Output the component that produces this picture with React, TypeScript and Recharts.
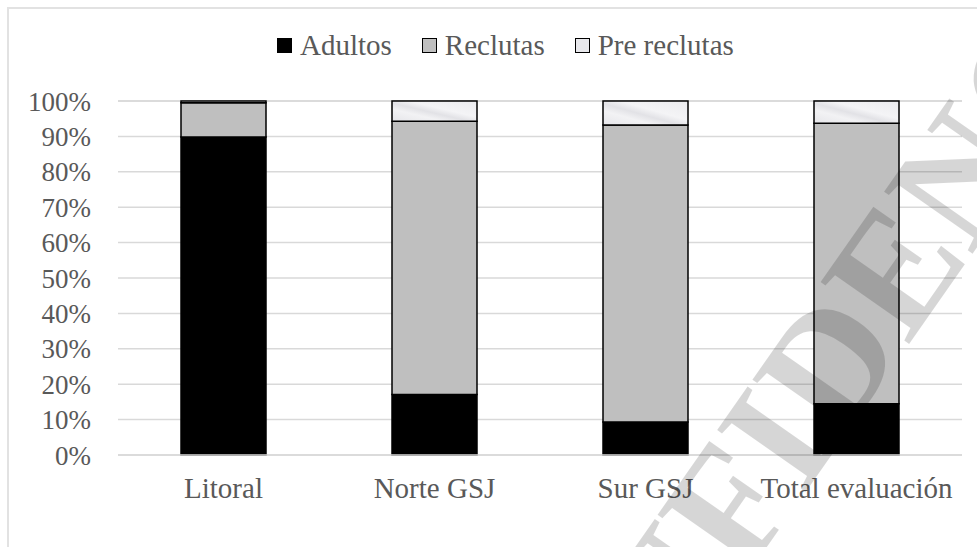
import { Bar, BarChart, CartesianGrid, Legend, XAxis, YAxis } from "recharts";

// Estructura poblacional por zona (% de individuos)
const zonas = ["Litoral", "Norte GSJ", "Sur GSJ", "Total evaluación"];
const adultos = [89.8, 17.1, 9.3, 14.5];
const reclutas = [9.7, 77.2, 83.9, 79.2];
const preReclutas = [0.5, 5.7, 6.8, 6.3];
const ticksY = [0, 10, 20, 30, 40, 50, 60, 70, 80, 90, 100];

const SERIES = [
  { key: "adultos", name: "Adultos", fill: "#000000" },
  { key: "reclutas", name: "Reclutas", fill: "#bfbfbf" },
  { key: "preReclutas", name: "Pre reclutas", fill: "url(#marmol)" },
];

const data = zonas.map((zona, i) => ({
  zona,
  adultos: adultos[i],
  reclutas: reclutas[i],
  preReclutas: preReclutas[i],
}));

const FONT = '"Liberation Serif", "Times New Roman", Tinos, "DejaVu Serif", serif';
const TEXT = "#595959";

function Leyenda() {
  return (
    <div style={{ display: "flex", alignItems: "center", fontFamily: FONT, fontSize: 29, color: TEXT, lineHeight: 1 }}>
      {SERIES.map((s, i) => (
        <div key={s.key} style={{ display: "flex", alignItems: "center", marginLeft: i === 0 ? 0 : 30 }}>
          <span
            style={{
              display: "inline-block",
              width: 13,
              height: 13,
              border: "1.5px solid #000",
              background: i === 0 ? "#000" : i === 1 ? "#bfbfbf" : "#e8e8ec",
              marginRight: 8,
            }}
          />
          <span>{s.name}</span>
        </div>
      ))}
    </div>
  );
}

export default function App() {
  return (
    <div style={{ position: "absolute", left: 0, top: 0, width: 977, height: 547, background: "#fff", overflow: "hidden", fontFamily: FONT }}>
      <div
        style={{
          position: "absolute",
          left: 7,
          top: 7,
          width: 1000,
          height: 600,
          border: "2px solid #e2e2e2",
        }}
      />
      <BarChart
        width={977}
        height={547}
        data={data}
        margin={{ top: 101, right: 15, bottom: 0, left: 0 }}
        barSize={85}
        style={{ fontFamily: FONT }}
      >
        <defs>
          <linearGradient id="marmol" x1="0" y1="1" x2="1" y2="0">
            <stop offset="0%" stopColor="#e6e6ea" />
            <stop offset="30%" stopColor="#f2f2f4" />
            <stop offset="45%" stopColor="#e2e2e6" />
            <stop offset="60%" stopColor="#f4f4f6" />
            <stop offset="100%" stopColor="#ebebee" />
          </linearGradient>
        </defs>
        <CartesianGrid vertical={false} stroke="#d9d9d9" strokeWidth={1.5} />
        <XAxis
          dataKey="zona"
          height={63}
          tickSize={0}
          tickMargin={22}
          interval={0}
          axisLine={{ stroke: "#d9d9d9", strokeWidth: 1.5 }}
          tick={{ fill: TEXT, fontSize: 29, fontFamily: FONT }}
        />
        <YAxis
          width={118}
          domain={[0, 100]}
          ticks={ticksY}
          interval={0}
          tickFormatter={(v: number) => `${v}%`}
          tickSize={0}
          tickMargin={27}
          axisLine={false}
          tick={{ fill: TEXT, fontSize: 27, fontFamily: FONT }}
        />
        <Legend content={<Leyenda />} wrapperStyle={{ top: 31, left: 277, width: "auto" }} />
        {SERIES.map((s) => (
          <Bar
            key={s.key}
            dataKey={s.key}
            name={s.name}
            stackId="a"
            fill={s.fill}
            stroke="#000"
            strokeWidth={1.5}
            isAnimationActive={false}
          />
        ))}
      </BarChart>
      {/* marca de agua diagonal */}
      <svg width={977} height={547} style={{ position: "absolute", left: 0, top: 0, pointerEvents: "none" }}>
        <text
          x={905}
          y={350}
          textAnchor="middle"
          transform="rotate(-55 905 350)"
          fontFamily={FONT}
          fontWeight="bold"
          fontSize={165}
          fill="#000"
          fillOpacity={0.16}
        >
          CONFIDENCIAL
        </text>
      </svg>
    </div>
  );
}
